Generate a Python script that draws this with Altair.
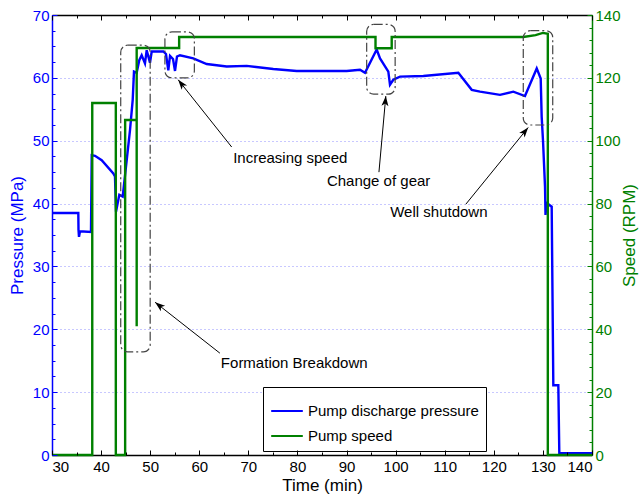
import math
import altair as alt
import pandas as pd

# ---------------- data ----------------
p_time = [30, 35.36, 35.4, 35.5, 35.7, 37.94, 38.09, 38.76, 40.12, 42.49,
          42.83, 43.04, 43.71, 44.4, 45.22, 45.89, 46.44, 46.7, 47.25, 47.78,
          48.27, 48.94, 49.29, 49.96, 50.31, 52.67, 53.22, 53.69, 54.04, 54.65,
          55.06, 55.46, 56.07, 58.78, 61.51, 65.59, 69.66, 75.08, 79.85, 90.03,
          92.74, 93.76, 96.14, 96.82, 98.51, 98.85, 99.53, 100.89, 105.64, 112.77,
          115.5, 117.19, 121.26, 123.97, 126.35, 128.74, 129.55, 129.75, 130.02, 130.43,
          130.53, 130.77, 131.79, 132.12, 133.14, 133.34, 140]
p_value = [38.5, 38.5, 35.8, 34.7, 35.6, 35.5, 47.7, 47.6, 46.9, 44.8,
           44.3, 38.7, 41.4, 41.1, 46.9, 51.7, 56.5, 61.0, 60.8, 62.8,
           63.6, 62.3, 64.4, 62.4, 64.2, 64.2, 63.8, 61.2, 63.5, 63.0,
           61.1, 63.4, 63.6, 63.1, 62.2, 61.8, 61.9, 61.4, 61.1, 61.1,
           61.3, 60.8, 64.5, 63.1, 61.0, 58.9, 59.7, 60.2, 60.3, 60.8,
           58.1, 57.8, 57.3, 57.8, 57.1, 61.5, 59.9, 53.8, 50.0, 42.7,
           38.2, 40.1, 39.5, 11.1, 11.1, 0.3, 0.3]

s_time = [30, 38.2, 38.2, 43.0, 43.0, 44.9, 44.9, 47.25, 47.25, 47.25,
          55.9, 55.9, 95.9, 95.9, 99.2, 99.2, 126.0, 128.5, 130.0, 131.0,
          131.0, 140]
s_value = [0, 0, 112, 112, 0, 0, 106.6, 106.6, 41, 129.5,
           129.5, 133, 133, 129.4, 129.4, 133, 133, 133.6, 134.3, 134.0,
           0, 0]

series_names = ["Pump discharge pressure", "Pump speed"]
series_colors = ["#0000ff", "#008000"]

x_ticks = list(range(30, 141, 10))
x_minor = list(range(30, 141, 5))
p_ticks = list(range(0, 71, 10))
p_minor = [i * 2.5 for i in range(29)]
s_ticks = list(range(0, 141, 20))
s_ticks_in_p = [v / 2 for v in s_ticks]          # speed ticks on the pressure scale
s_minor_in_p = [i * 2 for i in range(36)]        # 4 RPM steps

box_t0 = [44.0, 53.0, 94.1, 126.0]
box_t1 = [50.0, 59.0, 99.9, 132.0]
box_p0 = [16.4, 60.0, 57.4, 52.5]
box_p1 = [65.2, 67.3, 68.5, 67.5]

note_text = ["Increasing speed", "Change of gear", "Well shutdown", "Formation Breakdown"]
note_t = [66.9, 86.0, 98.9, 64.4]
note_p = [47.3, 43.6, 38.7, 14.6]
tail_t = [66.6, 96.6, 114.3, 64.2]
tail_p = [49.0, 45.0, 39.9, 16.2]
head_t = [55.7, 98.0, 127.0, 51.0]
head_p = [59.7, 57.1, 52.1, 24.3]

# ---------------- layout / style ----------------
W, H = 540, 440
FONT = "Liberation Sans"
BLUE, GREEN = series_colors
sx, sy = W / 110.0, H / 70.0
head_angle = [(math.degrees(math.atan2((ht - tt) * sx, (hp - tp) * sy)) + 360) % 360
              for tt, tp, ht, hp in zip(tail_t, tail_p, head_t, head_p)]

pdf = pd.DataFrame({"t": p_time, "v": p_value, "i": range(len(p_time))})
sdf = pd.DataFrame({"t": s_time, "v": s_value, "i": range(len(s_time))})
bdf = pd.DataFrame({"t0": box_t0, "t1": box_t1, "p0": box_p0, "p1": box_p1})
adf = pd.DataFrame({"tt": tail_t, "tp": tail_p, "ht": head_t, "hp": head_p, "ang": head_angle})
ndf = pd.DataFrame({"label": note_text, "t": note_t, "p": note_p})

xs = alt.Scale(domain=[30, 140], nice=False, zero=False)
ps = alt.Scale(domain=[0, 70], nice=False, zero=False)
ss = alt.Scale(domain=[0, 140], nice=False, zero=False)
cs = alt.Scale(domain=series_names, range=series_colors)

AX = dict(labelFont=FONT, titleFont=FONT, labelFontSize=15, titleFontSize=17,
          titleFontWeight="normal", domainWidth=1.5, tickWidth=1)
MAJ = dict(labels=False, title=None, grid=False, ticks=True, tickSize=5, tickWidth=1,
           tickOpacity=1, domainWidth=1.5, zindex=2)
MIN = dict(labels=False, title=None, grid=False, ticks=True, tickSize=3, tickWidth=1,
           tickOpacity=1, domain=False, zindex=2)

legend = alt.Legend(orient="none", legendX=211, legendY=372, title=None,
                    strokeColor="black", fillColor="white", padding=7,
                    symbolType="stroke", symbolSize=1000, symbolStrokeWidth=2,
                    labelFontSize=15, labelFont=FONT, labelOffset=4, labelLimit=400,
                    rowPadding=-12)

press = alt.Chart(pdf).transform_calculate(series="'Pump discharge pressure'").mark_line(
    strokeWidth=2.4).encode(
    x=alt.X("t:Q", scale=xs, axis=alt.Axis(
        title="Time (min)", values=x_ticks, ticks=False, grid=False, labelPadding=4,
        titlePadding=3, domainColor="black", labelColor="black", titleColor="black", **AX)),
    y=alt.Y("v:Q", scale=ps, axis=alt.Axis(
        title="Pressure (MPa)", orient="left", values=p_ticks, ticks=False, grid=True,
        gridColor="#7777ff", gridDash=[1, 3], gridOpacity=0.8, gridWidth=1,
        domainColor=BLUE, labelColor=BLUE, titleColor=BLUE, labelPadding=3,
        titlePadding=6, **AX)),
    order="i:Q",
    color=alt.Color("series:N", scale=cs, legend=legend),
)

speed = alt.Chart(sdf).transform_calculate(series="'Pump speed'").mark_line(
    strokeWidth=2.4).encode(
    x=alt.X("t:Q", scale=xs, axis=None),
    y=alt.Y("v:Q", scale=ss, axis=alt.Axis(
        title="Speed (RPM)", orient="right", values=s_ticks, ticks=False, grid=False,
        domainColor=GREEN, labelColor=GREEN, titleColor=GREEN, labelPadding=3,
        titlePadding=1, titleAngle=270, titleBaseline="top", **AX)),
    order="i:Q",
    color=alt.Color("series:N", scale=cs, legend=legend),
)

# annotation boxes; their layer also carries the inward major ticks of the top and left edges
boxes = alt.Chart(bdf).mark_rect(
    fill="white", fillOpacity=0, stroke="#444444", strokeWidth=1.2,
    strokeDash=[9, 3, 2, 3], cornerRadius=7).encode(
    x=alt.X("t0:Q", scale=xs, axis=alt.Axis(
        orient="bottom", offset=-H, values=x_ticks, tickColor="black",
        domainColor="black", **MAJ)),
    x2="t1:Q",
    y=alt.Y("p0:Q", scale=ps, axis=alt.Axis(
        orient="right", offset=-W, values=p_ticks, tickColor=BLUE, domain=False, **MAJ)),
    y2="p1:Q",
)

# arrow shafts; inward major ticks of the bottom and right edges
arrows = alt.Chart(adf).mark_rule(color="black", strokeWidth=1).encode(
    x=alt.X("tt:Q", scale=xs, axis=alt.Axis(
        orient="top", offset=-H, values=x_ticks, tickColor="black", domain=False, **MAJ)),
    x2="ht:Q",
    y=alt.Y("tp:Q", scale=ps, axis=alt.Axis(
        orient="left", offset=-W, values=s_ticks_in_p, tickColor=GREEN, domain=False, **MAJ)),
    y2="hp:Q",
)

# arrow heads; inward minor ticks of the top and left edges
heads = alt.Chart(adf).mark_point(
    shape="M0,0L0.7,2L0,1.5L-0.7,2Z", filled=True, size=100, color="black", opacity=1).encode(
    x=alt.X("ht:Q", scale=xs, axis=alt.Axis(
        orient="bottom", offset=-H, values=x_minor, tickColor="black", **MIN)),
    y=alt.Y("hp:Q", scale=ps, axis=alt.Axis(
        orient="right", offset=-W, values=p_minor, tickColor=BLUE, **MIN)),
    angle=alt.Angle("ang:Q", scale=None),
)

# annotation texts; inward minor ticks of the bottom and right edges
notes = alt.Chart(ndf).mark_text(
    align="left", baseline="middle", fontSize=15, font=FONT, color="black").encode(
    x=alt.X("t:Q", scale=xs, axis=alt.Axis(
        orient="top", offset=-H, values=x_minor, tickColor="black", **MIN)),
    y=alt.Y("p:Q", scale=ps, axis=alt.Axis(
        orient="left", offset=-W, values=s_minor_in_p, tickColor=GREEN, **MIN)),
    text="label:N",
)

chart = alt.layer(press, speed, boxes, arrows, heads, notes).resolve_scale(
    y="independent").resolve_axis(x="independent", y="independent").properties(
    width=W, height=H,
    autosize=alt.AutoSizeParams(type="none"),
    padding={"left": 52, "top": 15, "right": 49, "bottom": 44},
    background="white",
).configure_view(stroke="transparent")

chart.save("out.html", embed_options={"renderer": "svg", "actions": False})
